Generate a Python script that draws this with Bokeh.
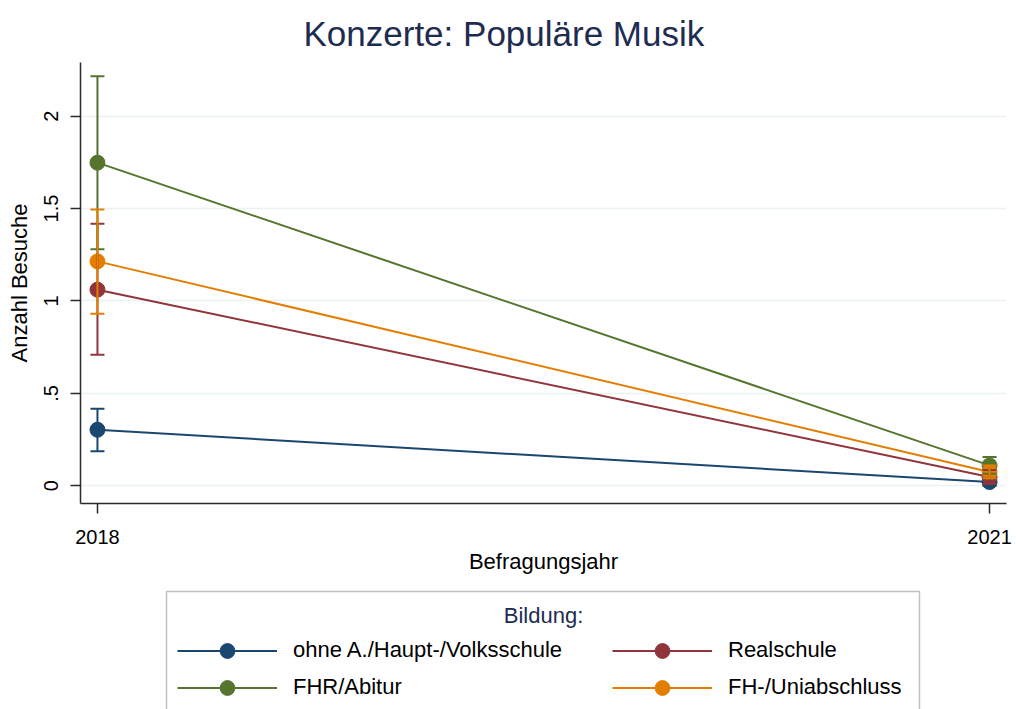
from bokeh.plotting import figure
from bokeh.layouts import column
from bokeh.models import (Range1d, FixedTicker, Whisker, TeeHead, ColumnDataSource,
                          Legend, LegendItem, Label, BoxAnnotation)
from bokeh.embed import file_html
from bokeh.resources import INLINE

# ---- data ----
years = [2018, 2021]
series_names = ["ohne A./Haupt-/Volksschule", "Realschule", "FHR/Abitur", "FH-/Uniabschluss"]
colors = ["#1a476f", "#90353b", "#55752f", "#e37e00"]

mean_haupt = [0.303, 0.020]
lo_haupt = [0.187, 0.000]
hi_haupt = [0.417, 0.040]

mean_real = [1.061, 0.047]
lo_real = [0.709, 0.010]
hi_real = [1.418, 0.085]

mean_abitur = [1.748, 0.110]
lo_abitur = [1.279, 0.065]
hi_abitur = [2.216, 0.155]

mean_uni = [1.214, 0.074]
lo_uni = [0.930, 0.040]
hi_uni = [1.495, 0.110]

y_ticks = [0, 0.5, 1, 1.5, 2]
y_tick_labels = ["0", ".5", "1", "1.5", "2"]
x_ticks = [2018, 2021]

means = [mean_haupt, mean_real, mean_abitur, mean_uni]
los = [lo_haupt, lo_real, lo_abitur, lo_uni]
his = [hi_haupt, hi_real, hi_abitur, hi_uni]

FONT = "Liberation Sans"
NAVY = "#1e2c52"
AXC = "#2a2a2a"

# ---- main chart ----
p = figure(width=1016, height=580, output_backend="svg", toolbar_location=None,
           x_range=Range1d(2017.943, 2021.057), y_range=Range1d(-0.096, 2.29),
           min_border_left=80, min_border_right=10, min_border_top=62, min_border_bottom=77)
p.outline_line_color = None
p.background_fill_color = "white"
p.border_fill_color = "white"

p.title.text = "Konzerte: Populäre Musik"
p.title.text_font = FONT
p.title.text_font_size = "35px"
p.title.text_font_style = "normal"
p.title.text_color = NAVY
p.title.align = "left"
p.title.offset = 223
p.title.standoff = 19

p.xaxis.ticker = FixedTicker(ticks=x_ticks)
p.yaxis.ticker = FixedTicker(ticks=y_ticks)
p.yaxis.major_label_overrides = {t: l for t, l in zip(y_ticks, y_tick_labels)}
p.yaxis.major_label_orientation = "vertical"
for ax in (p.xaxis, p.yaxis):
    ax.axis_line_color = AXC
    ax.axis_line_width = 1.5
    ax.major_tick_line_color = AXC
    ax.major_tick_line_width = 1.5
    ax.major_tick_out = 10
    ax.major_tick_in = 0
    ax.minor_tick_line_color = None
    ax.major_label_text_font = FONT
    ax.major_label_text_font_size = "20px"
    ax.major_label_text_color = "black"
    ax.axis_label_text_font = FONT
    ax.axis_label_text_font_size = "22px"
    ax.axis_label_text_font_style = "normal"
    ax.axis_label_text_color = "black"
p.xaxis.axis_label = "Befragungsjahr"
p.yaxis.axis_label = "Anzahl Besuche"
p.xaxis.major_label_standoff = 16
p.xaxis.axis_label_standoff = 2
p.yaxis.major_label_standoff = 12
p.yaxis.axis_label_standoff = 10

p.xgrid.grid_line_color = None
p.ygrid.grid_line_color = "#eaf2f3"
p.ygrid.grid_line_width = 1.5

for m, lo, hi, c in zip(means, los, his, colors):
    src = ColumnDataSource(dict(x=years, lo=lo, hi=hi))
    w = Whisker(source=src, base="x", lower="lo", upper="hi", dimension="height",
                line_color=c, line_width=2,
                upper_head=TeeHead(size=14, line_color=c, line_width=2),
                lower_head=TeeHead(size=14, line_color=c, line_width=2))
    w.level = "glyph"
    p.add_layout(w)

for m, c in zip(means, colors):
    p.line(years, m, line_color=c, line_width=2)
    p.scatter(years, m, size=15, fill_color=c, line_color=c)

# ---- legend strip (frame aligned with main frame: 80..1006 px) ----
LH = 129
FL, FR = 80, 1006
lg = figure(width=1016, height=LH, output_backend="svg", toolbar_location=None,
            x_range=Range1d(FL, FR), y_range=Range1d(0, LH),
            x_axis_type=None, y_axis_type=None,
            min_border_left=0, min_border_right=0, min_border_top=0, min_border_bottom=0)
lg.outline_line_color = None
lg.xgrid.grid_line_color = None
lg.ygrid.grid_line_color = None
lg.background_fill_color = "white"
lg.border_fill_color = "white"

lg.add_layout(BoxAnnotation(left=166, right=919, top=LH - 11, bottom=-10,
                            fill_color=None, line_color="#333333", line_width=1.5))

leg_renderers = []
for m, c in zip(means, colors):
    # same series drawn in the legend strip (outside its visible range) so the legend shows their glyphs
    ln = lg.line(years, m, line_color=c, line_width=2)
    sc = lg.scatter(years, m, size=15, fill_color=c, line_color=c)
    leg_renderers.append([ln, sc])

common = dict(padding=0, spacing=0, glyph_width=100, glyph_height=37, label_height=37,
              label_standoff=16, label_text_font=FONT, label_text_font_size="22px",
              label_text_color="black", margin=0, border_line_color=None,
              background_fill_alpha=0)
leg_a = Legend(items=[LegendItem(label=series_names[0], renderers=leg_renderers[0]),
                      LegendItem(label=series_names[2], renderers=leg_renderers[2])],
               location=(177 - FL, 3.5), **common)
leg_b = Legend(items=[LegendItem(label=series_names[1], renderers=leg_renderers[1]),
                      LegendItem(label=series_names[3], renderers=leg_renderers[3])],
               location=(612 - FL, 3.5), **common)
lg.add_layout(leg_a)
lg.add_layout(leg_b)

lg.add_layout(Label(x=543, y=LH - 35, text="Bildung:", text_font=FONT, text_font_size="22px",
                    text_color=NAVY, text_align="center", text_baseline="middle"))

layout = column(p, lg, spacing=0)
open("out.html", "w").write(file_html(layout, INLINE))
